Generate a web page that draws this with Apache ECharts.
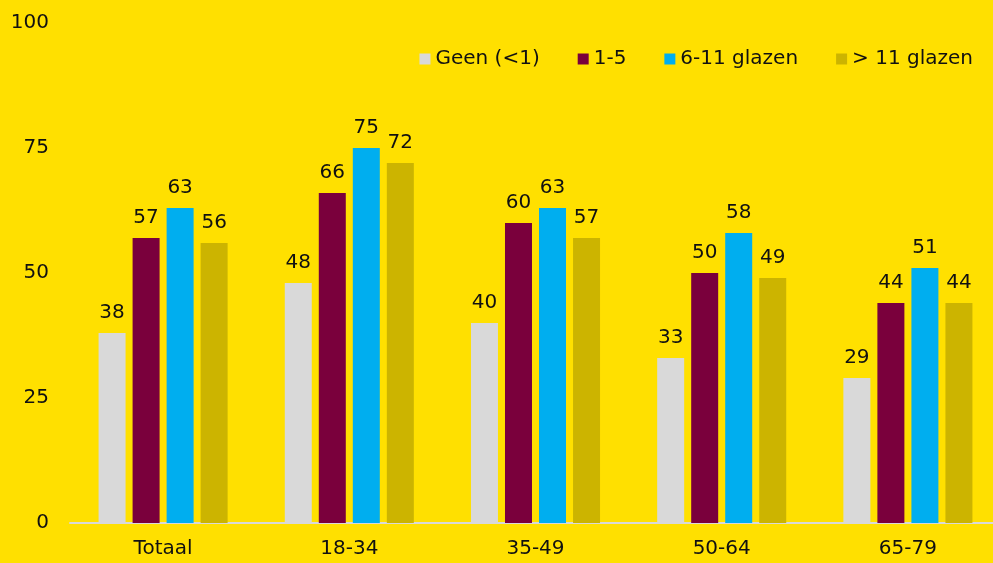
<!DOCTYPE html>
<html><head><meta charset="utf-8">
<script src="https://cdn.jsdelivr.net/npm/echarts@6/dist/echarts.min.js"></script>
<style>html,body{margin:0;padding:0;background:#FFE000;overflow:hidden;width:993px;height:563px;}#c{width:1001px;height:563px;}</style>
</head><body><div id="c"></div>
<script>
const categories = ['Totaal','18-34','35-49','50-64','65-79'];
const seriesNames = ['Geen (<1)','1-5','6-11 glazen','> 11 glazen'];
const geen = [38,48,40,33,29];
const een5 = [57,66,60,50,44];
const zes11 = [63,75,63,58,51];
const meer11 = [56,72,57,49,44];
const yTicks = [0,25,50,75,100];
const colors = ['#D9D9D9','#7A003C','#00AEEF','#CCB400'];
const values = [geen, een5, zes11, meer11];
const font = 'DejaVu Sans';
const chart = echarts.init(document.getElementById('c'));
chart.setOption({
  backgroundColor:'#FFE000',
  animation:false,
  textStyle:{fontFamily:font},
  legend:{top:44,right:23,itemWidth:11,itemHeight:11,itemGap:38,icon:'rect',
    textStyle:{fontSize:20,color:'#111',fontFamily:font},
    data:seriesNames},
  grid:{left:70,top:23,bottom:40,right:0,containLabel:false},
  xAxis:{type:'category',data:categories,
    axisLine:{lineStyle:{color:'#D9D9D9',width:2}},axisTick:{show:false},
    axisLabel:{fontSize:20,color:'#111',margin:16,fontFamily:font}},
  yAxis:{type:'value',min:0,max:100,interval:25,splitLine:{show:false},
    axisLine:{show:false},axisTick:{show:false},
    axisLabel:{fontSize:20,color:'#111',margin:21,fontFamily:font,
      formatter:v=>yTicks.includes(v)?String(v):''}},
  series: seriesNames.map((n,i)=>({name:n,type:'bar',data:values[i],
    barWidth:27,barGap:'26%',itemStyle:{color:colors[i]},
    label:{show:true,position:'top',distance:10,fontSize:20,color:'#111',fontFamily:font}}))
});
</script></body></html>
